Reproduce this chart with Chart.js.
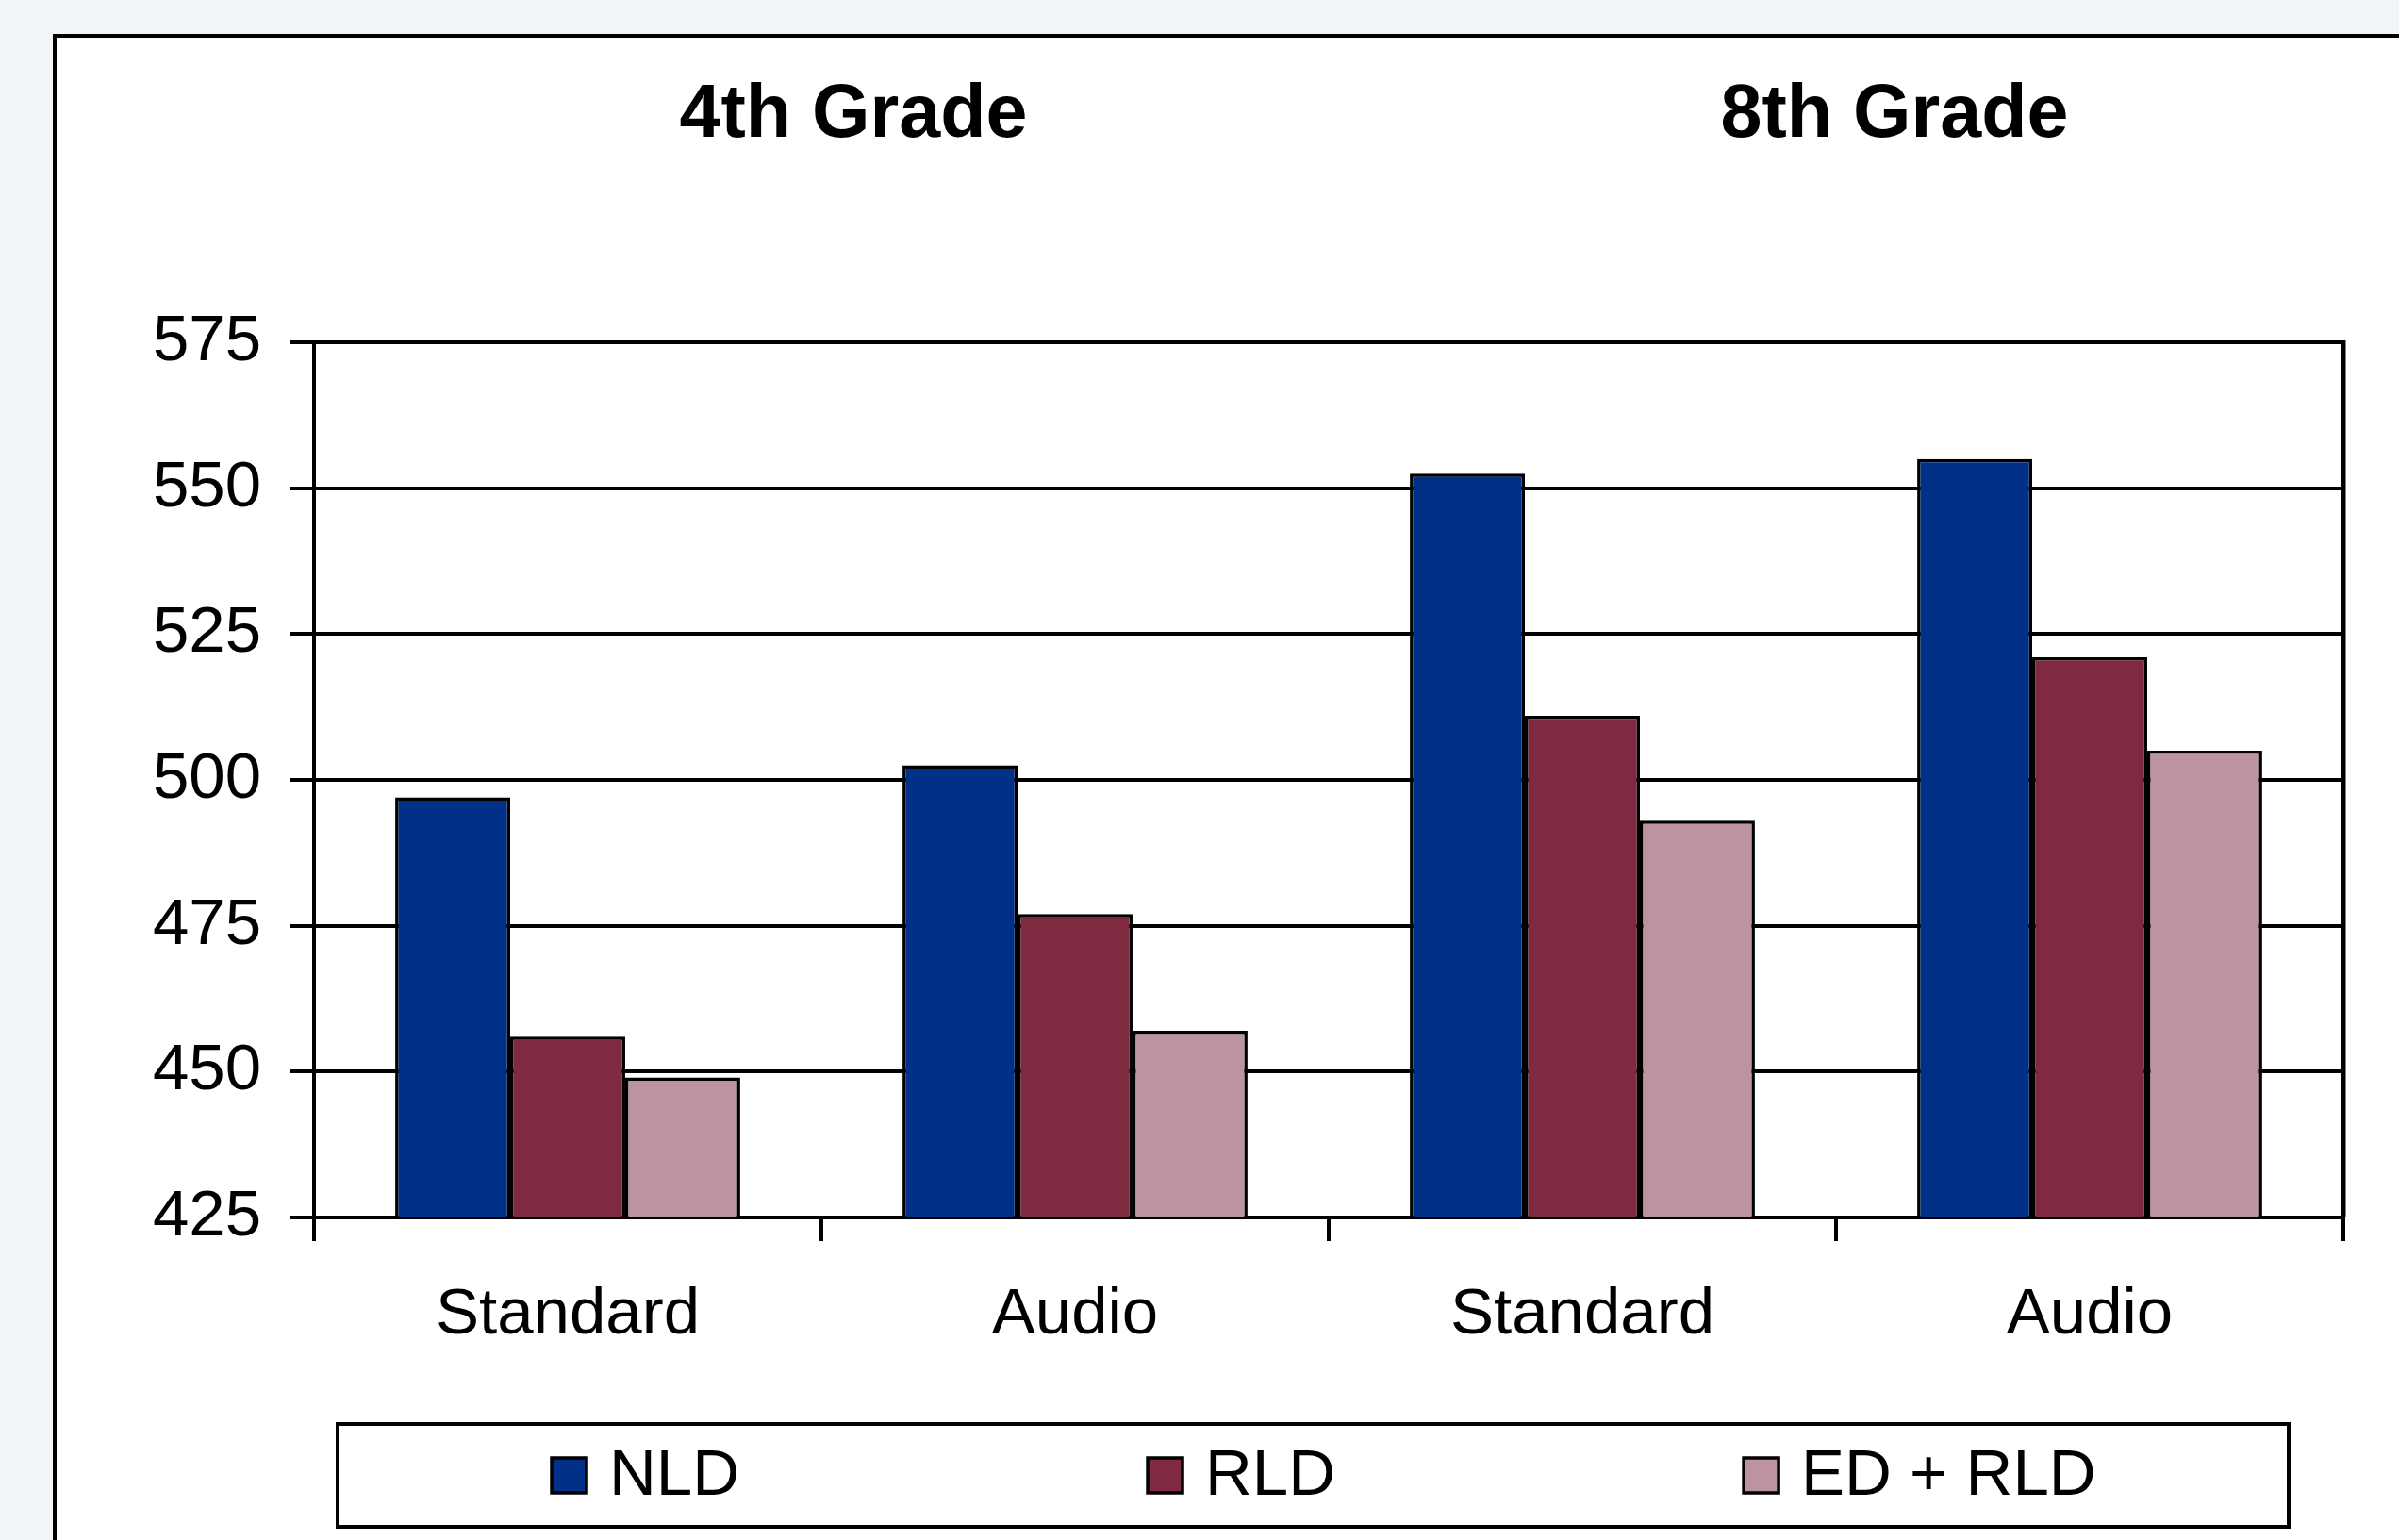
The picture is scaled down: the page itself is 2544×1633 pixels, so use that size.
<!DOCTYPE html>
<html>
<head>
<meta charset="utf-8">
<title>Scale scores by grade and test format</title>
<script src="https://cdn.jsdelivr.net/npm/chart.js@4"></script>
<style>
  html, body { margin: 0; padding: 0; width: 2544px; height: 1633px; overflow: hidden; background: #f1f5f8; }
  #frame { position: absolute; left: 56px; top: 36px; width: 2600px; height: 1700px; background: #ffffff; border: 4px solid #000000; box-sizing: border-box; }
  #chart { position: absolute; left: 0; top: 0; }
</style>
</head>
<body>
<div id="frame"></div>
<canvas id="chart" width="2544" height="1633"></canvas>
<script>
// Test format within each grade
const categories = ['Standard', 'Audio', 'Standard', 'Audio'];
const gradeTitles = ['4th Grade', '8th Grade'];

// Student groups
const seriesNames = ['NLD', 'RLD', 'ED + RLD'];

// Mean scale scores per group, in category order
const nldScores = [497, 502.5, 552.5, 555];
const rldScores = [456, 477, 511, 521];
const edRldScores = [449, 457, 493, 505];

// Value axis ticks
const yTicks = [425, 450, 475, 500, 525, 550, 575];

const seriesColors = ['#003087', '#7f2a40', '#bd939f'];
const FONT = '"Liberation Sans", Arial, sans-serif';

// Grade headings above the plot
const gradeHeadings = {
  id: 'gradeHeadings',
  afterDraw(chart, args, opts) {
    const ctx = chart.ctx;
    ctx.save();
    ctx.fillStyle = '#000';
    ctx.font = 'bold 79px ' + FONT;
    ctx.textAlign = 'center';
    ctx.textBaseline = 'alphabetic';
    gradeTitles.forEach((t, i) => ctx.fillText(t, opts.centers[i], opts.baseline));
    ctx.restore();
  }
};

// Boxed legend below the axis, built from the datasets
const boxLegend = {
  id: 'boxLegend',
  afterDraw(chart, args, opts) {
    const ctx = chart.ctx;
    const b = opts.box;
    ctx.save();
    ctx.fillStyle = '#fff';
    ctx.fillRect(b.left, b.top, b.right - b.left, b.bottom - b.top);
    ctx.lineWidth = 4;
    ctx.strokeStyle = '#000';
    ctx.strokeRect(b.left, b.top, b.right - b.left, b.bottom - b.top);
    ctx.font = '69px ' + FONT;
    ctx.textBaseline = 'alphabetic';
    ctx.textAlign = 'left';
    let x = opts.startX;
    chart.data.datasets.forEach((ds) => {
      const w = ctx.measureText(ds.label).width;
      ctx.fillStyle = ds.backgroundColor;
      ctx.fillRect(x, opts.swatchTop, opts.swatch, opts.swatch);
      ctx.lineWidth = 3.5;
      ctx.strokeRect(x, opts.swatchTop, opts.swatch, opts.swatch);
      ctx.fillStyle = '#000';
      ctx.fillText(ds.label, x + opts.swatch + opts.textGap, opts.baseline);
      x += opts.swatch + opts.textGap + w + opts.spacing;
    });
    ctx.restore();
  }
};

// Closing line on the right side of the plot area
const plotFrame = {
  id: 'plotFrame',
  afterDraw(chart) {
    const { ctx, chartArea } = chart;
    ctx.save();
    ctx.strokeStyle = '#000';
    ctx.lineWidth = 5;
    ctx.beginPath();
    ctx.moveTo(chartArea.right, chartArea.top - 2);
    ctx.lineTo(chartArea.right, chartArea.bottom);
    ctx.stroke();
    ctx.restore();
  }
};

const seriesData = [nldScores, rldScores, edRldScores];

new Chart(document.getElementById('chart'), {
  type: 'bar',
  data: {
    labels: categories,
    datasets: seriesNames.map((name, i) => ({
      label: name,
      data: seriesData[i],
      backgroundColor: seriesColors[i],
      borderColor: '#000',
      borderWidth: 3.5,
      borderSkipped: false,
      categoryPercentage: 0.68,
      barPercentage: 1.0
    }))
  },
  options: {
    responsive: false,
    animation: false,
    devicePixelRatio: 1,
    layout: { padding: { left: 0, right: 59, top: 363, bottom: 202 } },
    scales: {
      x: {
        afterFit: (s) => { s.height = 140; },
        grid: { offset: true, drawOnChartArea: false, drawTicks: true, tickLength: 25, color: '#000', lineWidth: 4 },
        border: { display: true, color: '#000', width: 4 },
        ticks: { color: '#000', font: { family: FONT, size: 69 }, padding: 38 }
      },
      y: {
        min: yTicks[0],
        max: yTicks[yTicks.length - 1],
        afterFit: (s) => { s.width = 333; },
        afterBuildTicks: (s) => { s.ticks = yTicks.map(v => ({ value: v })); },
        grid: { color: '#000', lineWidth: 4, tickLength: 25, drawTicks: true },
        border: { display: true, color: '#000', width: 4 },
        ticks: { color: '#000', font: { family: FONT, size: 69 }, padding: 31 }
      }
    },
    plugins: {
      legend: { display: false },
      tooltip: { enabled: false },
      gradeHeadings: { centers: [905, 2009], baseline: 145 },
      boxLegend: {
        box: { left: 358, top: 1510, right: 2427, bottom: 1619 },
        startX: 585, swatch: 37, swatchTop: 1546, textGap: 24, spacing: 433, baseline: 1585
      }
    }
  },
  plugins: [gradeHeadings, boxLegend, plotFrame]
});
</script>
</body>
</html>
